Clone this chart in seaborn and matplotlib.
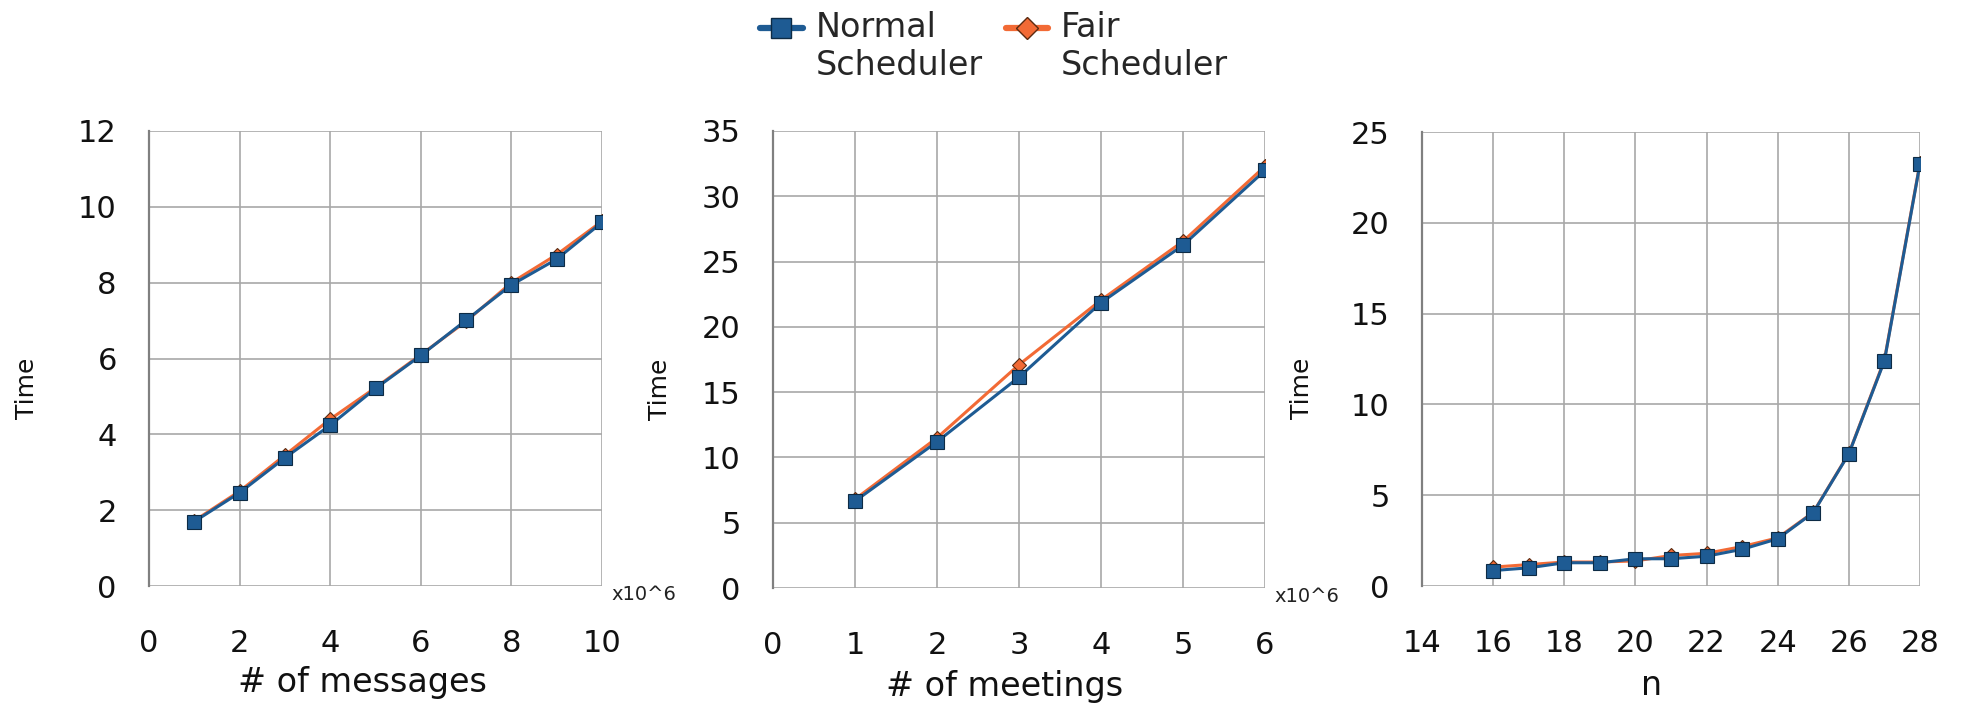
import matplotlib
matplotlib.use("Agg")
import matplotlib.pyplot as plt
import seaborn as sns
import pandas as pd
from matplotlib.lines import Line2D
from matplotlib.legend_handler import HandlerLine2D

# ---- data ----
msg_x = [1, 2, 3, 4, 5, 6, 7, 8, 9, 10]
msg_normal = [1.70, 2.46, 3.38, 4.24, 5.21, 6.08, 7.01, 7.94, 8.62, 9.59]
msg_fair = [1.72, 2.50, 3.45, 4.40, 5.23, 6.10, 6.98, 8.00, 8.74, 9.62]

meet_x = [1, 2, 3, 4, 5, 6]
meet_normal = [6.65, 11.2, 16.15, 21.85, 26.25, 31.98]
meet_fair = [6.8, 11.5, 17.1, 22.05, 26.55, 32.3]

n_x = [16, 17, 18, 19, 20, 21, 22, 23, 24, 25, 26, 27, 28]
n_normal = [0.85, 1.00, 1.28, 1.28, 1.50, 1.50, 1.64, 2.02, 2.60, 4.04, 7.28, 12.40, 23.25]
n_fair = [1.04, 1.18, 1.32, 1.32, 1.38, 1.68, 1.80, 2.17, 2.65, 4.06, 7.30, 12.45, 23.30]

series_labels = ["Normal\nScheduler", "Fair\nScheduler"]
x_labels = ["# of messages", "# of meetings", "n"]
x_ticks = [[0, 2, 4, 6, 8, 10], [0, 1, 2, 3, 4, 5, 6], [14, 16, 18, 20, 22, 24, 26, 28]]
y_ticks = [[0, 2, 4, 6, 8, 10, 12], [0, 5, 10, 15, 20, 25, 30, 35], [0, 5, 10, 15, 20, 25]]

BLUE = "#1e5b93"
ORANGE = "#f26a35"
GRID = "#a8a8a8"

sns.set_theme(style="white")
plt.rcParams['font.family'] = ['DejaVu Sans']

W, H = 1963, 706
fig = plt.figure(figsize=(W / 100, H / 100), dpi=100)

boxes = [(149, 602, 131, 586), (773, 1265, 131, 588), (1422, 1920, 132, 586)]
datasets = [(msg_x, msg_normal, msg_fair), (meet_x, meet_normal, meet_fair), (n_x, n_normal, n_fair)]
ylab_x = [-0.269, -0.229, -0.241]
xlab_pos = [(0.472, -0.233), (0.47, -0.236), (0.46, -0.240)]
mult = [True, True, False]

for i, ((l, r, t, b), (xs, yn, yf)) in enumerate(zip(boxes, datasets)):
    ax = fig.add_axes([l / W, (H - b) / H, (r - l) / W, (b - t) / H])
    df = pd.DataFrame({"x": xs + xs, "y": yn + yf,
                       "s": [series_labels[0]] * len(xs) + [series_labels[1]] * len(xs)})
    sns.lineplot(data=df[df.s == series_labels[1]], x="x", y="y", ax=ax, color=ORANGE,
                 marker="D", markersize=7, markeredgecolor="#5a2a10", markeredgewidth=0.8,
                 linewidth=2.2, zorder=3)
    sns.lineplot(data=df[df.s == series_labels[0]], x="x", y="y", ax=ax, color=BLUE,
                 marker="s", markersize=9.5, markeredgecolor="#0d2b45", markeredgewidth=0.8,
                 linewidth=2.2, zorder=4)
    ax.set_xlim(x_ticks[i][0], x_ticks[i][-1])
    ax.set_ylim(y_ticks[i][0], y_ticks[i][-1])
    ax.set_xticks(x_ticks[i])
    ax.set_yticks(y_ticks[i])
    ax.grid(True, color=GRID, linewidth=1.2)
    for side in ["top", "right", "bottom"]:
        ax.spines[side].set_visible(False)
    ax.spines["left"].set_color("#808080")
    ax.spines["left"].set_linewidth(1.6)
    ax.tick_params(axis="both", direction="out", length=12.2, width=1.2, color=GRID,
                   labelsize=22, labelcolor="#111111")
    ax.tick_params(axis="x", pad=19)
    ax.tick_params(axis="y", pad=11)
    ax.set_xlabel(x_labels[i], fontsize=24, color="#111111")
    ax.xaxis.set_label_coords(*xlab_pos[i])
    ax.xaxis.label.set_verticalalignment("baseline")
    ax.set_ylabel("Time", fontsize=18, color="#111111")
    ax.yaxis.label.set_verticalalignment("center")
    ax.yaxis.set_label_coords(ylab_x[i], 0.435)
    if mult[i]:
        ax.annotate("x10^6", xy=(1.0, 0.0), xycoords="axes fraction",
                    xytext=(7, -6), textcoords="offset points", fontsize=14,
                    ha="left", va="center", color="#222222")


class UpHandler(HandlerLine2D):
    def __init__(self, shift=0, **kw):
        super().__init__(**kw)
        self.shift = shift

    def create_artists(self, legend, orig_handle, xdescent, ydescent, width, height,
                       fontsize, trans):
        return super().create_artists(legend, orig_handle, xdescent,
                                      ydescent - 2 * self.shift, width, height,
                                      fontsize, trans)


handles = [Line2D([], [], color=BLUE, marker="s", markersize=14, markeredgecolor="#0d2b45",
                  linewidth=4.5),
           Line2D([], [], color=ORANGE, marker="D", markersize=11, markeredgecolor="#5a2a10",
                  linewidth=4.5)]
fig.legend(handles, series_labels, loc="upper left", bbox_to_anchor=(760 / W, 1 - 11 / H),
           ncol=2, frameon=False, fontsize=24, handlelength=1.28, columnspacing=0.7,
           handletextpad=0.38, labelspacing=0.2, borderpad=0, borderaxespad=0,
           handler_map={h: UpHandler(shift=14) for h in handles})

fig.savefig("out.png", dpi=100)
